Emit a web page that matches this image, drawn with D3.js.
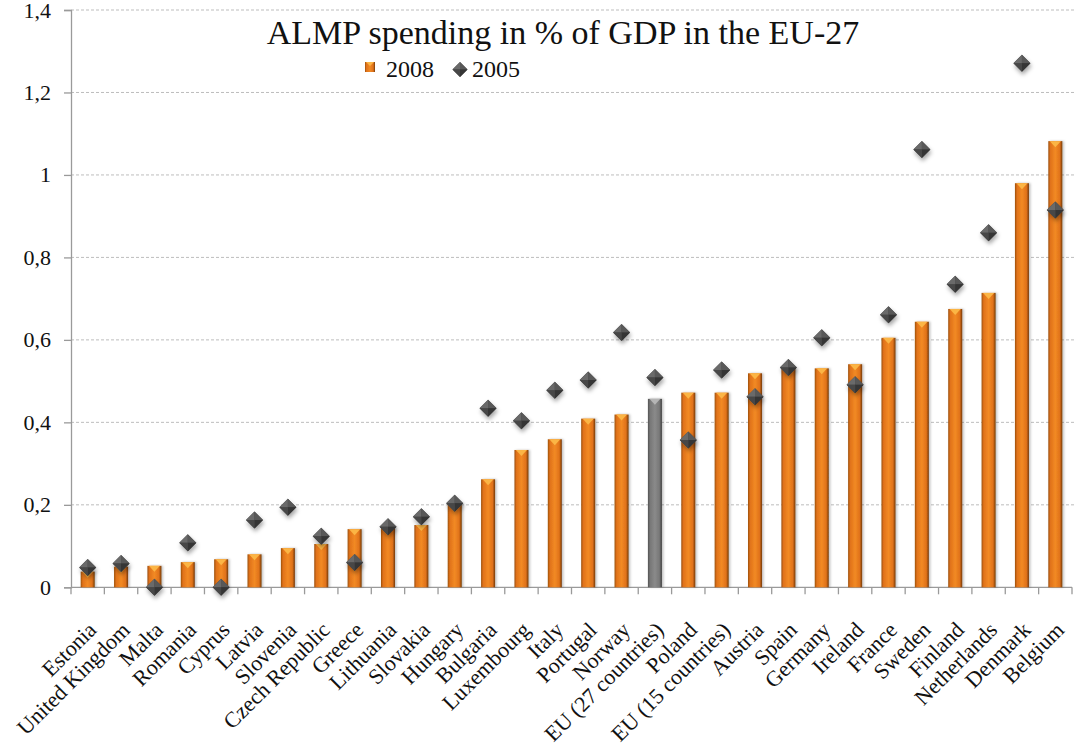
<!DOCTYPE html>
<html>
<head>
<meta charset="UTF-8" />
<title>ALMP spending in % of GDP in the EU-27</title>
<script src="https://cdn.jsdelivr.net/npm/d3@7/dist/d3.min.js"></script>
<style>
body{margin:0;background:#fff;}
svg text{font-family:"Liberation Serif","DejaVu Serif",serif;fill:#111;}
</style>
</head>
<body>
<div id="chart"></div>
<script type="text/javascript">
var W=1076,H=755;
var padL=71,padR=1072,padT=10,padB=587.3;
var serif='Liberation Serif, DejaVu Serif, serif';

var countries=['Estonia','United Kingdom','Malta','Romania','Cyprus','Latvia','Slovenia',
  'Czech Republic','Greece','Lithuania','Slovakia','Hungary','Bulgaria','Luxembourg','Italy',
  'Portugal','Norway','EU (27 countries)','Poland','EU (15 countries)','Austria','Spain',
  'Germany','Ireland','France','Sweden','Finland','Netherlands','Denmark','Belgium'];

var v2008=[0.038,0.05,0.052,0.061,0.068,0.08,0.095,0.105,0.141,0.147,0.151,0.204,0.262,0.333,0.359,
  0.409,0.419,0.457,0.472,0.472,0.519,0.531,0.531,0.541,0.605,0.644,0.675,0.714,0.98,1.082];

var v2005=[0.048,0.058,0,0.108,0,0.163,0.194,0.124,0.06,0.147,0.171,0.204,0.434,0.404,0.478,
  0.503,0.618,0.509,0.357,0.527,0.462,0.533,0.605,0.491,0.661,1.062,0.735,0.86,1.271,0.915];

var yTicks=[0,0.2,0.4,0.6,0.8,1,1.2,1.4];
var seriesNames=['2008','2005'];
var greyBar='EU (27 countries)';

var svg=d3.select('#chart').append('svg').attr('width',W).attr('height',H);
var defs=svg.append('defs');

function barGrad(id,c){
  var g=defs.append('linearGradient').attr('id',id).attr('x1','0%').attr('x2','100%');
  g.append('stop').attr('offset','0%').attr('stop-color',c[0]);
  g.append('stop').attr('offset','15%').attr('stop-color',c[1]);
  g.append('stop').attr('offset','50%').attr('stop-color',c[2]);
  g.append('stop').attr('offset','82%').attr('stop-color',c[1]);
  g.append('stop').attr('offset','100%').attr('stop-color',c[3]);
}
barGrad('gOrange',['#9c500c','#e0721a','#f28a24','#743a07']);
barGrad('gGrey',['#505050','#777','#8a8a8a','#404040']);

var f=defs.append('filter').attr('id','shadow').attr('x','-60%').attr('y','-60%').attr('width','220%').attr('height','220%');
f.append('feDropShadow').attr('dx',1).attr('dy',3).attr('stdDeviation',2.2).attr('flood-color','#000').attr('flood-opacity',0.35);
var f2=defs.append('filter').attr('id','barShadow').attr('x','-40%').attr('y','-5%').attr('width','180%').attr('height','110%');
f2.append('feDropShadow').attr('dx',1.5).attr('dy',0).attr('stdDeviation',1.2).attr('flood-color','#000').attr('flood-opacity',0.25);

var x=d3.scaleBand().domain(countries).range([padL,padR]).padding(0);
var y=d3.scaleLinear().domain([0,1.4]).range([padB,padT]);
var barW=x.bandwidth()*0.42;

// gridlines
svg.append('g').selectAll('line').data(yTicks.filter(function(d){return d>0;})).enter()
  .append('line')
  .attr('x1',padL).attr('x2',W)
  .attr('y1',function(d){return y(d);}).attr('y2',function(d){return y(d);})
  .attr('stroke','#bdbdbd').attr('stroke-width',1).attr('stroke-dasharray','3,2');

// y axis
var yAxis=d3.axisLeft(y).tickValues(yTicks).tickSize(7).tickPadding(13)
  .tickFormat(function(d){return String(+d.toFixed(1)).replace('.',',');});
var ga=svg.append('g').attr('transform','translate('+padL+',0)').call(yAxis);
ga.attr('font-family',serif);
ga.select('.domain').attr('stroke','#9a9a9a').attr('stroke-width',1.3);
ga.selectAll('.tick line').attr('stroke','#9a9a9a').attr('stroke-width',1.3);
ga.selectAll('.tick text').attr('font-size',22).attr('font-family',serif).attr('fill','#111');

// x axis line and boundary ticks
svg.append('line').attr('x1',padL).attr('x2',padR).attr('y1',padB).attr('y2',padB)
  .attr('stroke','#9a9a9a').attr('stroke-width',1.3);
var bounds=countries.map(function(c){return x(c);}).concat([padR]);
svg.append('g').selectAll('line').data(bounds).enter().append('line')
  .attr('x1',function(d){return d;}).attr('x2',function(d){return d;})
  .attr('y1',padB).attr('y2',padB+7)
  .attr('stroke','#9a9a9a').attr('stroke-width',1.3);

// bars
var bars=svg.append('g').selectAll('g').data(countries).enter().append('g')
  .attr('filter','url(#barShadow)');
bars.append('rect')
  .attr('x',function(d){return x(d)+(x.bandwidth()-barW)/2;})
  .attr('y',function(d,i){return y(v2008[i]);})
  .attr('width',barW)
  .attr('height',function(d,i){return y(0)-y(v2008[i]);})
  .attr('fill',function(d){return d===greyBar?'url(#gGrey)':'url(#gOrange)';});
bars.append('path')
  .attr('d',function(d,i){
    var x0=x(d)+(x.bandwidth()-barW)/2, y0=y(v2008[i]);
    var h=Math.min(6,(y(0)-y0)/2);
    return 'M'+(x0+1.5)+','+y0+'L'+(x0+barW-1.5)+','+y0+'L'+(x0+barW/2)+','+(y0+h)+'Z';
  })
  .attr('fill',function(d){return d===greyBar?'#b5b5b5':'#fbb545';});

// diamonds
function diamond(g,cx,cy,r){
  g.append('path').attr('d','M'+cx+','+(cy-r)+'L'+(cx+r)+','+cy+'L'+cx+','+(cy+r)+'L'+(cx-r)+','+cy+'Z')
    .attr('fill','#444');
  g.append('path').attr('d','M'+(cx-r)+','+cy+'L'+cx+','+(cy-r)+'L'+cx+','+cy+'Z').attr('fill','#6a6a6a');
  g.append('path').attr('d','M'+cx+','+(cy-r)+'L'+(cx+r)+','+cy+'L'+cx+','+cy+'Z').attr('fill','#585858');
  g.append('path').attr('d','M'+(cx+r)+','+cy+'L'+cx+','+(cy+r)+'L'+cx+','+cy+'Z').attr('fill','#353535');
  g.append('path').attr('d','M'+cx+','+(cy+r)+'L'+(cx-r)+','+cy+'L'+cx+','+cy+'Z').attr('fill','#474747');
}
var dg=svg.append('g');
countries.forEach(function(c,i){
  var g=dg.append('g').attr('filter','url(#shadow)');
  diamond(g,x(c)+x.bandwidth()/2,y(v2005[i]),8.5);
});

// category labels
svg.append('g').selectAll('text').data(countries).enter().append('text')
  .attr('transform',function(d){return 'translate('+(x(d)+x.bandwidth()/2+10)+','+(padB+44)+') rotate(-45)';})
  .attr('text-anchor','end')
  .attr('font-family',serif)
  .attr('font-size',22)
  .text(function(d){return d;});

// title
svg.append('text').attr('x',563).attr('y',44).attr('text-anchor','middle')
  .attr('font-family',serif).attr('font-size',34).text('ALMP spending in % of GDP in the EU-27');

// legend
var lg=svg.append('g');
lg.append('rect').attr('x',365).attr('y',62).attr('width',10).attr('height',10).attr('fill','url(#gOrange)');
lg.append('path').attr('d','M366,62L374,62L370,66Z').attr('fill','#fbb545');
lg.append('text').attr('x',386).attr('y',77).attr('font-family',serif).attr('font-size',24).text(seriesNames[0]);
diamond(lg,460,69.5,7.5);
lg.append('text').attr('x',472).attr('y',77).attr('font-family',serif).attr('font-size',24).text(seriesNames[1]);
</script>
</body>
</html>
